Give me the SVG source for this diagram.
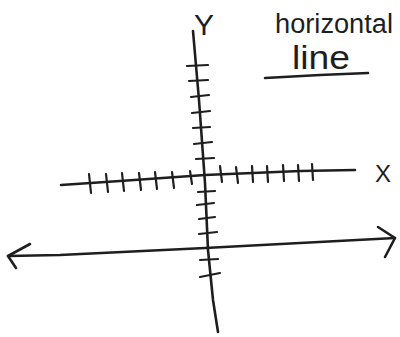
<svg xmlns="http://www.w3.org/2000/svg" width="400" height="337" viewBox="0 0 400 337">
<style>
.ink{fill:none;stroke:#1e1e1e;stroke-width:2.6;stroke-linecap:round;stroke-linejoin:round}
.tk{fill:none;stroke:#1e1e1e;stroke-width:2.2;stroke-linecap:round}
.lbl{font-family:"Liberation Sans","DejaVu Sans",sans-serif;fill:#1e1e1e}
</style>
<rect width="400" height="337" fill="#ffffff"/>
<g id="y-axis">
<path class="ink" d="M193,31 L199,100 L205,183 L208,250 L213,300 L218,332"/>
<path class="tk" d="M187,66 L208,65 M189,81 L208,80 M191,97 L209,95 M192,113 L210,111 M193,128 L210,127 M194,144 L212,142 M196,159 L214,158 M198,192 L215,191 M197,205 L214,203 M199,219 L215,217 M199,234 L217,232 M200,260 L218,259 M200,277 L220,273"/>
<text class="lbl" x="204" y="35" font-size="30" text-anchor="middle">Y</text>
</g>
<g id="x-axis">
<path class="ink" d="M61,185 L120,181 L205,175 L300,171 L355,170"/>
<path class="tk" d="M89,174 L91,193 M106,174 L108,192 M122,173 L124,191 M139,173 L141,190 M155,172 L157,189 M172,172 L174,188 M190,171 L192,184 M220,166 L222,182 M236,167 L238,183 M252,166 L253,182 M267,166 L268,182 M283,165 L284,181 M298,165 L299,181 M312,164 L313,180"/>
<text class="lbl" x="383" y="182" font-size="24" text-anchor="middle">X</text>
</g>
<g id="horizontal-line">
<path class="ink" d="M8,256 L60,255 L205,248 L395,238"/>
<path class="ink" d="M30,244 L8,256 L16,268"/>
<path class="ink" d="M378,227 L395,238 L385,257"/>
</g>
<g id="title">
<text class="lbl" x="275" y="33" font-size="27" textLength="118" lengthAdjust="spacingAndGlyphs">horizontal</text>
<text class="lbl" x="292" y="69" font-size="34" textLength="58" lengthAdjust="spacingAndGlyphs">line</text>
<path class="ink" d="M265,78 L320,75 L368,73"/>
</g>
</svg>
